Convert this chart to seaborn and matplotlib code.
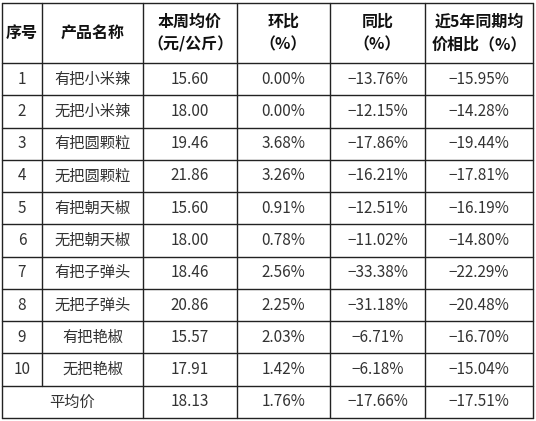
import matplotlib
matplotlib.use("Agg")
import matplotlib.pyplot as plt
import seaborn as sns

sns.set_theme(style="white")
plt.rcParams['font.family'] = ['Noto Sans CJK SC', 'DejaVu Sans']

headers = ["序号", "产品名称", "本周均价\n（元/公斤）", "环比\n（%）", "同比\n（%）", "近5年同期均\n价相比（%）"]
ids = ["1", "2", "3", "4", "5", "6", "7", "8", "9", "10"]
names = ["有把小米辣", "无把小米辣", "有把圆颗粒", "无把圆颗粒", "有把朝天椒",
         "无把朝天椒", "有把子弹头", "无把子弹头", "有把艳椒", "无把艳椒"]
prices = ["15.60", "18.00", "19.46", "21.86", "15.60", "18.00", "18.46", "20.86", "15.57", "17.91"]
hb = ["0.00%", "0.00%", "3.68%", "3.26%", "0.91%", "0.78%", "2.56%", "2.25%", "2.03%", "1.42%"]
tb = ["-13.76%", "-12.15%", "-17.86%", "-16.21%", "-12.51%", "-11.02%", "-33.38%", "-31.18%", "-6.71%", "-6.18%"]
five = ["-15.95%", "-14.28%", "-19.44%", "-17.81%", "-16.19%", "-14.80%", "-22.29%", "-20.48%", "-16.70%", "-15.04%"]
avg = ["平均价", "18.13", "1.76%", "-17.66%", "-17.51%"]

W, H = 536, 421
fig = plt.figure(figsize=(W / 100, H / 100), dpi=100)
ax = fig.add_axes([0, 0, 1, 1])
ax.set_xlim(0, W)
ax.set_ylim(H, 0)
ax.axis("off")

xs = [2, 42, 143, 237, 330, 425, 533]
top, hbot, bot = 3, 63, 418
nrows = len(ids) + 1
rh = (bot - hbot) / nrows
ys = [top, hbot] + [hbot + rh * (k + 1) for k in range(nrows)]
lw = 1.0
col = "#222222"
for y in ys:
    ax.plot([xs[0], xs[-1]], [y, y], color=col, lw=lw)
for i, x in enumerate(xs):
    if i == 1:
        ax.plot([x, x], [top, ys[-2]], color=col, lw=lw)
    else:
        ax.plot([x, x], [top, bot], color=col, lw=lw)

cx = [(xs[i] + xs[i + 1]) / 2 for i in range(6)]
for i, h in enumerate(headers):
    ax.text(cx[i], (top + hbot) / 2, h, ha="center", va="center", fontsize=11.5,
            fontweight="bold", linespacing=1.5, color="#111111")

fs = 11
for r in range(len(ids)):
    yc = (ys[r + 1] + ys[r + 2]) / 2
    vals = [ids[r], names[r], prices[r], hb[r], tb[r], five[r]]
    for i, v in enumerate(vals):
        ax.text(cx[i], yc, v.replace("-", "−"), ha="center", va="center", fontsize=fs,
                color="#333333", fontweight="light")
yc = (ys[-2] + ys[-1]) / 2
ax.text((xs[0] + xs[2]) / 2, yc, avg[0], ha="center", va="center", fontsize=fs,
        color="#333333", fontweight="light")
for i, v in enumerate(avg[1:]):
    ax.text(cx[i + 2], yc, v.replace("-", "−"), ha="center", va="center", fontsize=fs,
            color="#333333", fontweight="light")

fig.savefig("out.png", dpi=100, facecolor="white")
